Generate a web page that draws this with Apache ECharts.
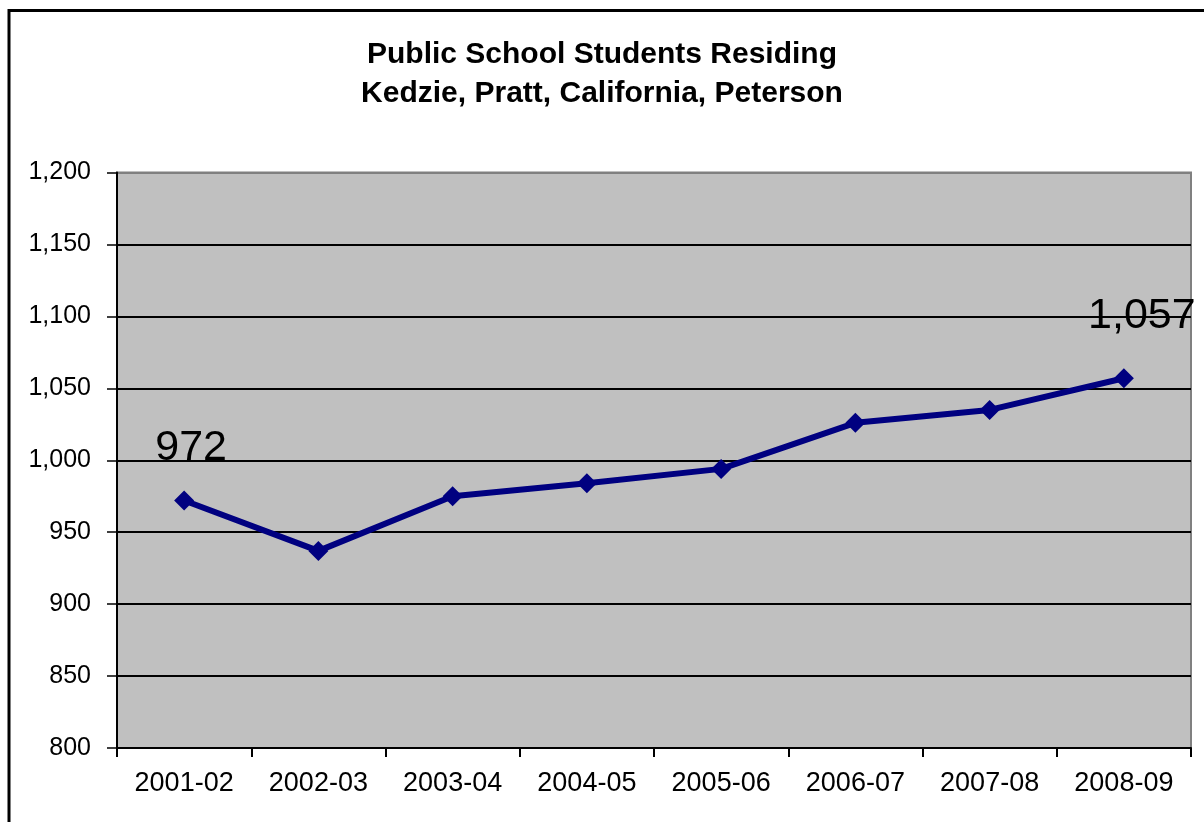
<!DOCTYPE html>
<html>
<head>
<meta charset="utf-8">
<script src="https://cdn.jsdelivr.net/npm/echarts@6/dist/echarts.min.js"></script>
<style>
html,body{margin:0;padding:0;background:#fff;}
#chart{width:1204px;height:822px;}
</style>
</head>
<body>
<div id="chart"></div>
<script>
const categories = ['2001-02','2002-03','2003-04','2004-05','2005-06','2006-07','2007-08','2008-09'];
const students = [972, 937, 975, 984, 994, 1026, 1035, 1057];
const labelledPoints = [0, 7];
const titleLines = ['Public School Students Residing', 'Kedzie, Pratt, California, Peterson'];

const fmt = v => Number(v).toLocaleString('en-US');
const labelOffsets = {0: [7, 0], 7: [18, 0]};
const labelDist = {0: 21, 7: 31};

const seriesData = students.map((v, i) => {
  const item = { value: v };
  if (labelledPoints.includes(i)) {
    item.label = {
      show: true,
      position: 'top',
      distance: labelDist[i],
      offset: labelOffsets[i],
      formatter: p => fmt(p.value),
      fontSize: 43,
      fontFamily: 'Liberation Sans, Arial, sans-serif',
      color: '#000'
    };
  }
  return item;
});

const chart = echarts.init(document.getElementById('chart'), null, {renderer: 'canvas'});
chart.setOption({
  animation: false,
  backgroundColor: '#fff',
  title: {
    text: titleLines.join('\n'),
    left: 602,
    top: 35,
    textAlign: 'center',
    padding: 0,
    textStyle: {
      fontFamily: 'Liberation Sans, Arial, sans-serif',
      fontWeight: 'bold',
      fontSize: 30,
      lineHeight: 39,
      color: '#000'
    }
  },
  graphic: [{
    type: 'rect',
    shape: {x: 9, y: 10.5, width: 1300, height: 900},
    style: {fill: null, stroke: '#000', lineWidth: 3},
    silent: true,
    z: 100
  }],
  grid: {
    left: 117,
    right: 13,
    top: 172.5,
    bottom: 74,
    show: true,
    backgroundColor: '#C0C0C0',
    borderColor: '#808080',
    borderWidth: 2
  },
  xAxis: {
    type: 'category',
    data: categories,
    boundaryGap: true,
    axisLine: {show: true, lineStyle: {color: '#000', width: 2}},
    axisTick: {show: true, length: 9, lineStyle: {color: '#000', width: 2}},
    axisLabel: {
      margin: 22,
      fontSize: 27,
      fontFamily: 'Liberation Sans, Arial, sans-serif',
      color: '#000'
    },
    splitLine: {show: false}
  },
  yAxis: {
    type: 'value',
    min: 800,
    max: 1200,
    interval: 50,
    axisLine: {show: true, lineStyle: {color: '#000', width: 2}},
    axisTick: {show: true, length: 10, lineStyle: {color: '#000', width: 1.5}},
    axisLabel: {
      margin: 26,
      fontSize: 25,
      fontFamily: 'Liberation Sans, Arial, sans-serif',
      color: '#000',
      formatter: v => fmt(v)
    },
    splitLine: {
      show: true,
      lineStyle: {
        color: ['#000','#000','#000','#000','#000','#000','#000','#000','#808080'],
        width: 2
      }
    }
  },
  series: [{
    type: 'line',
    data: seriesData,
    symbol: 'diamond',
    symbolSize: 20,
    lineStyle: {color: '#000080', width: 6},
    itemStyle: {color: '#000080'},
    z: 5
  }]
});
</script>
</body>
</html>
